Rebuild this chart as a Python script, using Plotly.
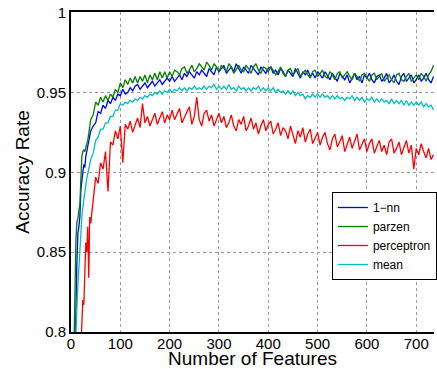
import plotly.graph_objects as go

# Number of features (x values)
features = list(range(6, 41, 2)) + list(range(45, 736, 5))

acc_1nn = [
    0.770, 0.790, 0.812, 0.845, 0.862, 0.866, 0.872, 0.889, 0.897, 0.900, 0.905, 0.903, 0.910, 0.913, 0.915, 0.918, 0.921, 0.926,
    0.929, 0.931, 0.938, 0.937, 0.942, 0.940, 0.945, 0.943, 0.947, 0.945, 0.949, 0.948,
    0.952, 0.949, 0.950, 0.953, 0.951, 0.954, 0.955, 0.952, 0.954, 0.956, 0.953, 0.955, 0.957, 0.954, 0.956, 0.958, 0.955, 0.957, 0.959, 0.957,
    0.960, 0.957, 0.959, 0.961, 0.958, 0.962, 0.960, 0.963, 0.961, 0.959, 0.963, 0.961, 0.964, 0.962, 0.960, 0.965, 0.963, 0.961, 0.966, 0.963,
    0.965, 0.967, 0.962, 0.964, 0.966, 0.963, 0.968, 0.965, 0.962, 0.966, 0.964, 0.962, 0.967, 0.965, 0.963, 0.961, 0.966, 0.964, 0.962, 0.965,
    0.966, 0.962, 0.964, 0.961, 0.965, 0.963, 0.960, 0.964, 0.962, 0.960, 0.965, 0.962, 0.959, 0.963, 0.961, 0.964, 0.960, 0.962, 0.959, 0.963,
    0.961, 0.959, 0.963, 0.960, 0.958, 0.962, 0.959, 0.957, 0.962, 0.960, 0.958, 0.961, 0.956, 0.959, 0.962, 0.958, 0.960, 0.956, 0.961, 0.959,
    0.962, 0.958, 0.956, 0.960, 0.961, 0.957, 0.959, 0.962, 0.956, 0.958, 0.961, 0.957, 0.955, 0.960, 0.962, 0.957, 0.959, 0.961, 0.956, 0.958,
    0.961, 0.957, 0.959, 0.962, 0.958, 0.956, 0.960,
]

acc_parzen = [
    0.790, 0.833, 0.858, 0.869, 0.871, 0.876, 0.880, 0.896, 0.910, 0.913, 0.914, 0.913, 0.917, 0.918, 0.920, 0.924, 0.927, 0.933,
    0.936, 0.944, 0.942, 0.947, 0.944, 0.948, 0.945, 0.949, 0.947, 0.952, 0.950, 0.956,
    0.953, 0.958, 0.955, 0.959, 0.956, 0.960, 0.956, 0.960, 0.957, 0.961, 0.956, 0.961, 0.958, 0.962, 0.958, 0.963, 0.959, 0.963, 0.959, 0.963,
    0.960, 0.964, 0.963, 0.961, 0.965, 0.966, 0.962, 0.964, 0.967, 0.963, 0.965, 0.968, 0.966, 0.964, 0.969, 0.967, 0.964, 0.968, 0.966, 0.963,
    0.967, 0.965, 0.963, 0.968, 0.966, 0.962, 0.965, 0.967, 0.964, 0.963, 0.967, 0.965, 0.962, 0.966, 0.968, 0.964, 0.962, 0.966, 0.965, 0.963,
    0.966, 0.964, 0.961, 0.963, 0.966, 0.962, 0.960, 0.964, 0.965, 0.961, 0.963, 0.965, 0.960, 0.962, 0.964, 0.961, 0.959, 0.963, 0.964, 0.960,
    0.962, 0.964, 0.960, 0.959, 0.963, 0.961, 0.958, 0.962, 0.963, 0.959, 0.961, 0.963, 0.960, 0.958, 0.962, 0.960, 0.957, 0.961, 0.962, 0.959,
    0.957, 0.961, 0.962, 0.958, 0.960, 0.962, 0.957, 0.959, 0.961, 0.958, 0.956, 0.961, 0.962, 0.958, 0.957, 0.960, 0.962, 0.957, 0.959, 0.961,
    0.958, 0.962, 0.960, 0.957, 0.961, 0.963, 0.967,
]

acc_perceptron = [
    None, None, None, None, None, 0.760, 0.775, 0.792, 0.806, 0.820, 0.817, 0.838, 0.856, 0.850, 0.866, 0.834, 0.872, 0.868,
    0.884, 0.897, 0.893, 0.906, 0.902, 0.913, 0.888, 0.919, 0.917, 0.926, 0.921, 0.929,
    0.906, 0.930, 0.927, 0.932, 0.925, 0.929, 0.934, 0.928, 0.943, 0.931, 0.935, 0.929, 0.933, 0.937, 0.930, 0.934, 0.938, 0.931, 0.936, 0.933,
    0.939, 0.933, 0.936, 0.940, 0.931, 0.934, 0.938, 0.941, 0.930, 0.935, 0.947, 0.933, 0.929, 0.937, 0.939, 0.932, 0.936, 0.929, 0.933, 0.937,
    0.931, 0.935, 0.928, 0.931, 0.936, 0.929, 0.926, 0.933, 0.930, 0.935, 0.926, 0.929, 0.934, 0.927, 0.931, 0.924, 0.929, 0.933, 0.926, 0.930,
    0.932, 0.924, 0.927, 0.931, 0.923, 0.928, 0.926, 0.921, 0.929, 0.924, 0.918, 0.926, 0.922, 0.928, 0.919, 0.924, 0.927, 0.918, 0.922, 0.925,
    0.917, 0.922, 0.925, 0.918, 0.914, 0.921, 0.924, 0.916, 0.919, 0.923, 0.913, 0.918, 0.922, 0.915, 0.920, 0.924, 0.914, 0.917, 0.921, 0.913,
    0.918, 0.921, 0.912, 0.916, 0.920, 0.913, 0.917, 0.911, 0.919, 0.921, 0.912, 0.915, 0.919, 0.911, 0.916, 0.920, 0.912, 0.917, 0.902, 0.915,
    0.911, 0.918, 0.913, 0.909, 0.915, 0.908, 0.911,
]

acc_mean = [
    0.770, 0.785, 0.800, 0.822, 0.830, 0.840, 0.853, 0.863, 0.872, 0.878, 0.884, 0.888, 0.892, 0.896, 0.899, 0.902, 0.905, 0.908,
    0.912, 0.920, 0.922, 0.927, 0.927, 0.931, 0.931, 0.935, 0.935, 0.939, 0.939, 0.943,
    0.942, 0.944, 0.943, 0.945, 0.944, 0.946, 0.945, 0.947, 0.946, 0.948, 0.947, 0.949, 0.948, 0.950, 0.949, 0.951, 0.949, 0.951, 0.950, 0.952,
    0.950, 0.952, 0.951, 0.953, 0.951, 0.953, 0.951, 0.953, 0.952, 0.954, 0.952, 0.953, 0.952, 0.954, 0.952, 0.954, 0.953, 0.955, 0.952, 0.954,
    0.952, 0.954, 0.952, 0.955, 0.952, 0.953, 0.951, 0.954, 0.952, 0.953, 0.951, 0.953, 0.951, 0.953, 0.952, 0.954, 0.951, 0.953, 0.951, 0.953,
    0.951, 0.953, 0.950, 0.952, 0.950, 0.951, 0.949, 0.951, 0.949, 0.951, 0.948, 0.950, 0.948, 0.949, 0.946, 0.948, 0.947, 0.949, 0.947, 0.949,
    0.947, 0.949, 0.947, 0.948, 0.946, 0.948, 0.946, 0.948, 0.946, 0.947, 0.945, 0.947, 0.946, 0.948, 0.945, 0.947, 0.945, 0.947, 0.944, 0.946,
    0.945, 0.947, 0.944, 0.946, 0.944, 0.946, 0.944, 0.945, 0.943, 0.946, 0.943, 0.945, 0.943, 0.945, 0.942, 0.945, 0.942, 0.944, 0.942, 0.944,
    0.942, 0.944, 0.941, 0.943, 0.941, 0.942, 0.939,
]

series_names = ["1\u2212nn", "parzen", "perceptron", "mean"]
series_values = [acc_1nn, acc_parzen, acc_perceptron, acc_mean]
series_colors = ["#0000FF", "#008000", "#FF0000", "#00BFBF"]

x_ticks = [0, 100, 200, 300, 400, 500, 600, 700]
y_ticks = [0.8, 0.85, 0.9, 0.95, 1.0]
y_ticklabels = ["0.8", "0.85", "0.9", "0.95", "1"]

FONT = "Liberation Sans, Arial, Helvetica, sans-serif"

fig = go.Figure()
for name, vals, col in zip(series_names, series_values, series_colors):
    fig.add_trace(go.Scatter(
        x=features, y=vals, mode="lines", name=name,
        line=dict(color=col, width=1.3), connectgaps=False,
    ))

fig.update_layout(
    width=437, height=369,
    margin=dict(l=71, r=0, t=12, b=37),
    paper_bgcolor="white", plot_bgcolor="white",
    font=dict(family=FONT, color="black", size=15),
    showlegend=True,
    legend=dict(
        x=1.008, xanchor="right", y=0.30, yanchor="middle",
        bgcolor="white", bordercolor="black", borderwidth=1,
        font=dict(family=FONT, size=12, color="black"),
        itemwidth=30, tracegroupgap=0,
    ),
)
fig.update_xaxes(
    range=[0, 736], tickvals=x_ticks, ticks="",
    showgrid=True, gridcolor="#9a9a9a", griddash="dot", gridwidth=1,
    showline=True, linecolor="black", linewidth=2, mirror=True,
    zeroline=False, ticklabelstandoff=-3,
    title=dict(text="Number of Features", font=dict(size=19), standoff=0),
    tickfont=dict(size=15),
)
fig.update_yaxes(
    range=[0.8, 1.0004], tickvals=y_ticks, ticktext=y_ticklabels, ticks="",
    showgrid=True, gridcolor="#9a9a9a", griddash="dot", gridwidth=1,
    showline=True, linecolor="black", linewidth=2, mirror=False,
    zeroline=False,
    title=dict(text="Accuracy Rate", font=dict(size=19), standoff=2),
    tickfont=dict(size=15),
)

fig.write_html(
    "out.html",
    config={"displayModeBar": False},
    post_script="document.body.style.margin='0';",
)
